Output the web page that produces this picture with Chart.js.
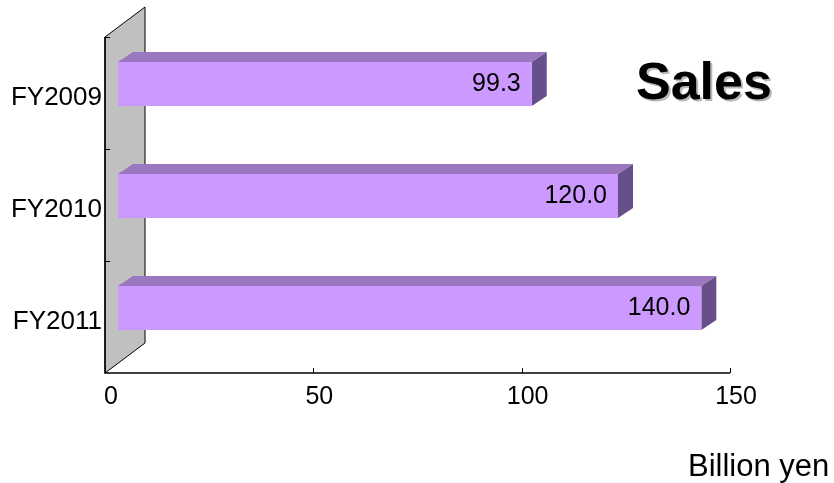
<!DOCTYPE html>
<html>
<head>
<meta charset="utf-8">
<script src="https://cdn.jsdelivr.net/npm/chart.js@4/dist/chart.umd.min.js"></script>
<style>
  html, body { margin: 0; padding: 0; background: #fff; }
  #wrap { width: 834px; height: 483px; position: relative; }
</style>
</head>
<body>
<div id="wrap"><canvas id="salesChart"></canvas></div>
<script>
const categories = ['FY2009', 'FY2010', 'FY2011'];
const salesValues = [99.3, 120.0, 140.0];
const xTicks = [0, 50, 100, 150];

const FONT = '"Liberation Sans", Arial, sans-serif';
const WALL = { dx: 40, dy: -30 };   // depth of the back wall
const BAR_FRONT = { dx: 13, dy: -9 }; // bar front face sits a bit into the box
const BAR_DEPTH = { dx: 15, dy: -10 };

// draws the grey wall, axes, ticks and labels
const wallPlugin = {
  id: 'wall',
  beforeDatasetsDraw(chart) {
    const ctx = chart.ctx;
    const area = chart.chartArea;
    const xs = chart.scales.x;
    const ys = chart.scales.y;
    const left = area.left, top = area.top, bottom = area.bottom;

    ctx.save();
    // side wall
    ctx.beginPath();
    ctx.moveTo(left, top);
    ctx.lineTo(left + WALL.dx, top + WALL.dy);
    ctx.lineTo(left + WALL.dx, bottom + WALL.dy);
    ctx.lineTo(left, bottom);
    ctx.closePath();
    ctx.fillStyle = '#c0c0c0';
    ctx.fill();
    ctx.strokeStyle = '#000';
    ctx.lineWidth = 1;
    ctx.stroke();

    // front edge (y axis) and x axis
    ctx.lineWidth = 1.5;
    ctx.beginPath();
    ctx.moveTo(left, top);
    ctx.lineTo(left, bottom);
    ctx.lineTo(xs.getPixelForValue(150), bottom);
    ctx.stroke();

    // x ticks
    ctx.lineWidth = 1;
    ctx.beginPath();
    xTicks.forEach(v => {
      const px = Math.round(xs.getPixelForValue(v)) + 0.5;
      ctx.moveTo(px, bottom);
      ctx.lineTo(px, bottom - 5);
    });
    // y ticks at category boundaries
    const step = (bottom - top) / categories.length;
    for (let i = 0; i < categories.length; i++) {
      const py = Math.round(top + i * step) + 0.5;
      ctx.moveTo(left, py);
      ctx.lineTo(left + 5, py);
    }
    ctx.stroke();

    // x labels
    ctx.fillStyle = '#000';
    ctx.font = '25px ' + FONT;
    ctx.textAlign = 'center';
    ctx.textBaseline = 'middle';
    xTicks.forEach(v => {
      ctx.fillText(String(v), xs.getPixelForValue(v) + 6, bottom + 24);
    });

    // y labels
    ctx.textAlign = 'right';
    ctx.font = '26px ' + FONT;
    categories.forEach((c, i) => {
      ctx.fillText(c, left - 3, ys.getPixelForValue(i) + 5);
    });
    ctx.restore();
  },
  afterDatasetsDraw(chart) {
    const ctx = chart.ctx;
    const meta = chart.getDatasetMeta(0);
    ctx.save();
    meta.data.forEach((bar, i) => {
      const x0 = bar.base + BAR_FRONT.dx;
      const x1 = bar.x + BAR_FRONT.dx;
      const y0 = bar.y - bar.height / 2 + BAR_FRONT.dy;
      const y1 = bar.y + bar.height / 2 + BAR_FRONT.dy;
      const dx = BAR_DEPTH.dx, dy = BAR_DEPTH.dy;

      // top face
      ctx.beginPath();
      ctx.moveTo(x0, y0);
      ctx.lineTo(x0 + dx, y0 + dy);
      ctx.lineTo(x1 + dx, y0 + dy);
      ctx.lineTo(x1, y0);
      ctx.closePath();
      ctx.fillStyle = '#9a77bf';
      ctx.fill();

      // right face
      ctx.beginPath();
      ctx.moveTo(x1, y0);
      ctx.lineTo(x1 + dx, y0 + dy);
      ctx.lineTo(x1 + dx, y1 + dy);
      ctx.lineTo(x1, y1);
      ctx.closePath();
      ctx.fillStyle = '#674f89';
      ctx.fill();

      // front face
      ctx.fillStyle = '#cc99ff';
      ctx.fillRect(x0, y0, x1 - x0, y1 - y0);

      // value label
      ctx.fillStyle = '#000';
      ctx.font = '25px ' + FONT;
      ctx.textAlign = 'right';
      ctx.textBaseline = 'middle';
      ctx.fillText(salesValues[i].toFixed(1), x1 - 11, (y0 + y1) / 2);
    });

    // title with shadow
    ctx.font = 'bold 52px ' + FONT;
    ctx.textAlign = 'left';
    ctx.textBaseline = 'alphabetic';
    ctx.fillStyle = '#b8b8b8';
    ctx.fillText('Sales', 638, 101);
    ctx.fillStyle = '#000';
    ctx.fillText('Sales', 636, 99);

    // unit
    ctx.font = '31px ' + FONT;
    ctx.fillText('Billion yen', 688, 476);
    ctx.restore();
  }
};

new Chart(document.getElementById('salesChart'), {
  type: 'bar',
  data: {
    labels: categories,
    datasets: [{
      label: 'Sales',
      data: salesValues,
      backgroundColor: 'rgba(0,0,0,0)',
      borderWidth: 0,
      categoryPercentage: 1,
      barPercentage: 0.393
    }]
  },
  options: {
    indexAxis: 'y',
    responsive: true,
    maintainAspectRatio: false,
    animation: false,
    layout: { padding: { left: 105, right: 104, top: 37, bottom: 110 } },
    scales: {
      x: { display: false, min: 0, max: 150 },
      y: { display: false }
    },
    plugins: {
      legend: { display: false },
      tooltip: { enabled: false }
    }
  },
  plugins: [wallPlugin]
});
</script>
</body>
</html>
